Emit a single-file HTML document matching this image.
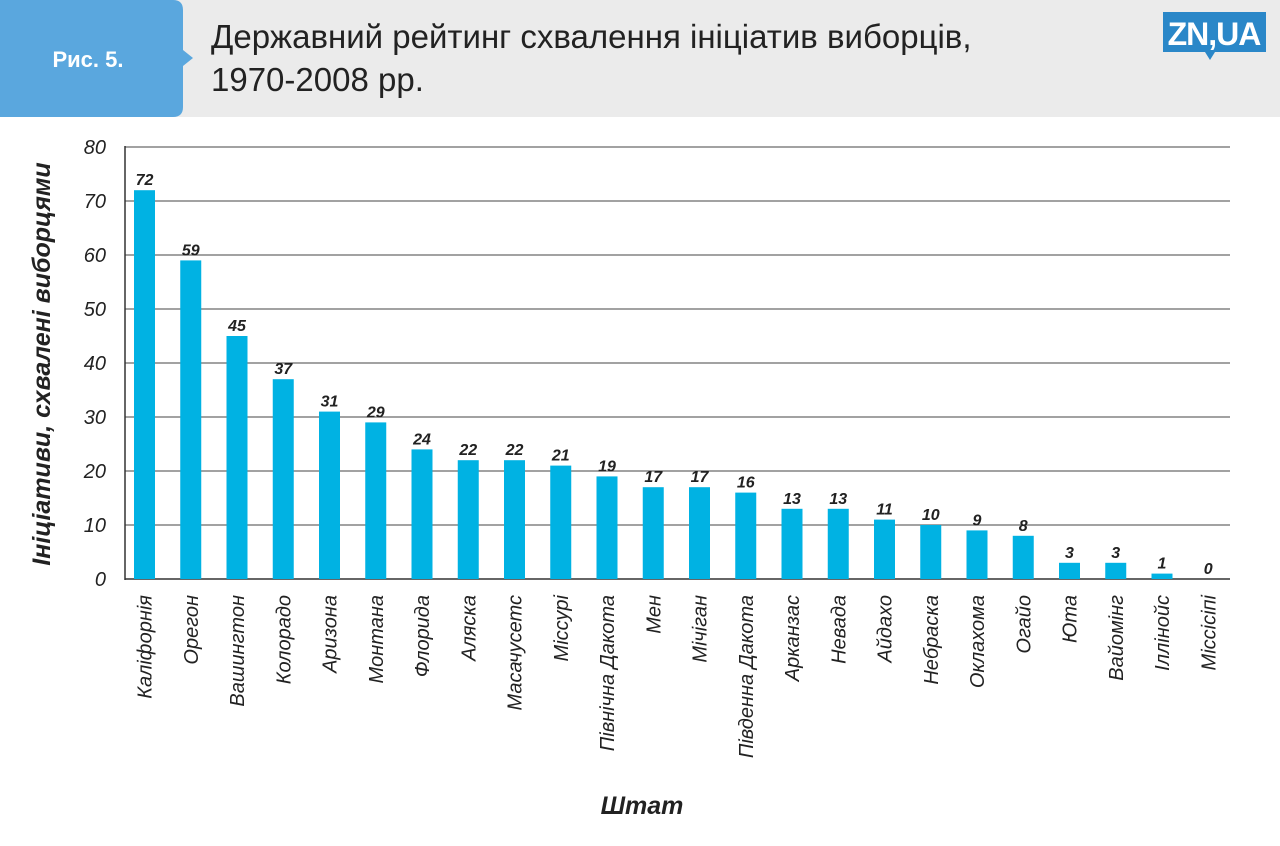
<!DOCTYPE html>
<html><head><meta charset="utf-8"><style>
body{margin:0;width:1280px;height:841px;background:#fff;overflow:hidden;font-family:"Liberation Sans","DejaVu Sans",sans-serif;}
</style></head><body>
<svg width="1280" height="841" xmlns="http://www.w3.org/2000/svg" id="chart">
<rect x="0" y="0" width="1280" height="117" fill="#ebebeb"/>
<path d="M0 0 H173 Q183 0 183 10 V50 L193 58 L183 66 V107 Q183 117 173 117 H0 Z" fill="#5aa7de"/>
<text x="88" y="67" font-size="22" font-weight="bold" fill="#fff" text-anchor="middle">Рис. 5.</text>
<text x="211" y="48" font-size="33" fill="#222">Державний рейтинг схвалення ініціатив виборців,</text>
<text x="211" y="91" font-size="33" fill="#222">1970-2008 рр.</text>
<g>
<rect x="1163" y="12" width="103" height="40" fill="#2a87c8"/>
<path d="M1205 52 L1210 60 L1215 52 Z" fill="#2a87c8"/>
<text x="1214" y="45" font-size="32" font-weight="bold" fill="#fff" text-anchor="middle" letter-spacing="-1">ZN,UA</text>
</g>
<g id="grid"></g>
<line x1="125" y1="146" x2="125" y2="580" stroke="#333" stroke-width="1.5"/>
<g id="bars"></g>
<text transform="translate(50,364) rotate(-90)" font-size="25" font-weight="bold" font-style="italic" fill="#222" text-anchor="middle">Ініціативи, схвалені виборцями</text>
<text x="642" y="814" font-size="25" font-weight="bold" font-style="italic" fill="#222" text-anchor="middle">Штат</text>
</svg>
<script>
const states=["Каліфорнія","Орегон","Вашингтон","Колорадо","Аризона","Монтана","Флорида","Аляска","Масачусетс","Міссурі","Північна Дакота","Мен","Мічіган","Південна Дакота","Арканзас","Невада","Айдахо","Небраска","Оклахома","Огайо","Юта","Вайомінг","Іллінойс","Міссісіпі"];
const values=[72,59,45,37,31,29,24,22,22,21,19,17,17,16,13,13,11,10,9,8,3,3,1,0];
const yTicks=[0,10,20,30,40,50,60,70,80];
const NS="http://www.w3.org/2000/svg";
const y=v=>579-v*5.4;
const x=i=>144.5+i*46.25;
const grid=document.getElementById('grid'),bars=document.getElementById('bars');
function mk(tag,attrs,parent,txt){const e=document.createElementNS(NS,tag);for(const k in attrs)e.setAttribute(k,attrs[k]);if(txt!==undefined)e.textContent=txt;parent.appendChild(e);return e;}
yTicks.forEach(t=>{
 const l=mk('line',{x1:125,x2:1230,y1:y(t),y2:y(t),stroke:t===0?'#333':'#444','stroke-width':t===0?1.5:1},grid);
 
 
 const tx=mk('text',{x:106,y:y(t)+7,'font-size':20,'font-style':'italic',fill:'#222','text-anchor':'end'},grid,t);
 
 
});
states.forEach((s,i)=>{
 const v=values[i];
 const r=mk('rect',{x:x(i)-10.5,y:y(v),width:21,height:579-y(v),fill:'#00b2e3'},bars);
 
 
 const vl=mk('text',{x:x(i),y:y(v)-5,'font-size':16,'font-weight':'bold','font-style':'italic',fill:'#222','text-anchor':'middle'},bars,v);
 
 
 const cl=mk('text',{transform:`translate(${x(i)+7},595) rotate(-90)`,'font-size':20,'font-style':'italic',fill:'#222','text-anchor':'end'},bars,s);
 
 
});
</script>
</body></html>
